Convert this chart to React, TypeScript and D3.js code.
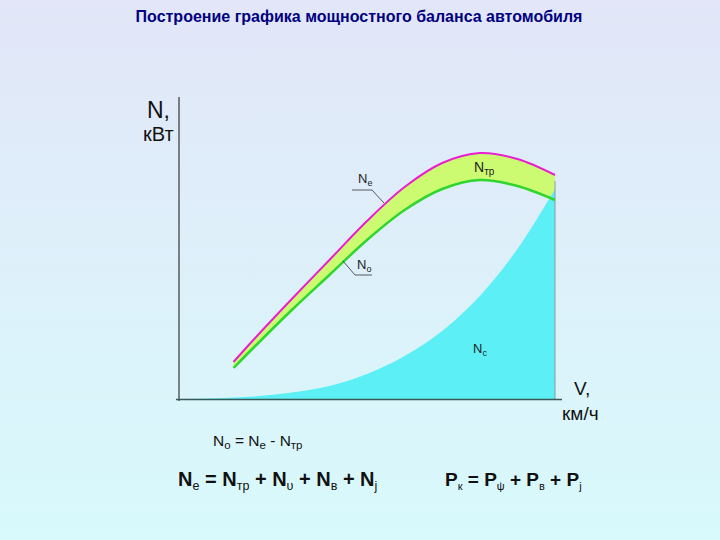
import React from "react";
import * as d3 from "d3";

// Engine power Ne and wheel power No (kW) vs speed v (km/h)
const speedsEngine = [29, 40, 60, 80, 100, 120, 140, 160, 180, 200];
const powerNe = [18.5, 30, 50, 69.5, 89, 106, 118, 123, 120, 112];
const powerNo = [15.5, 26, 44.5, 62, 79.5, 94.5, 105, 109.5, 106.5, 99.5];
// Resistance power vs speed
const speedsRes = [0, 20, 40, 60, 80, 100, 120, 140, 160, 180, 200];
const powerRes = [0, 0.4, 1.3, 3.2, 6.5, 12.5, 21.5, 34, 51.5, 75, 105];

const W = 720;
const H = 540;

export default function App() {
  const x = d3.scaleLinear().domain([0, 200]).range([179, 555]);
  const y = d3.scaleLinear().domain([0, 150]).range([399, 99]);

  const ne = speedsEngine.map((v, i) => ({ v, a: powerNe[i], b: powerNo[i] }));
  const res = speedsRes.map((v, i) => ({ v, n: powerRes[i] }));

  const curve = d3.curveCatmullRom.alpha(0.5);
  const band = d3
    .area<{ v: number; a: number; b: number }>()
    .x((d) => x(d.v))
    .y0((d) => y(d.b))
    .y1((d) => y(d.a))
    .curve(curve);
  const lineA = d3
    .line<{ v: number; a: number; b: number }>()
    .x((d) => x(d.v))
    .y((d) => y(d.a))
    .curve(curve);
  const lineB = d3
    .line<{ v: number; a: number; b: number }>()
    .x((d) => x(d.v))
    .y((d) => y(d.b))
    .curve(curve);
  const resArea = d3
    .area<{ v: number; n: number }>()
    .x((d) => x(d.v))
    .y0(y(0))
    .y1((d) => y(d.n))
    .curve(d3.curveMonotoneX);

  const f = "Arial, 'Liberation Sans', sans-serif";

  return (
    <svg
      width={W}
      height={H}
      style={{ position: "absolute", left: 0, top: 0 }}
      fontFamily={f}
    >
      <defs>
        <linearGradient id="bg" x1="0" y1="0" x2="0" y2="1">
          <stop offset="0" stopColor="#e2e6f8" />
          <stop offset="1" stopColor="#d8fafc" />
        </linearGradient>
      </defs>
      <rect x={0} y={0} width={W} height={H} fill="url(#bg)" />

      <text x={359} y={22} textAnchor="middle" fontSize={16} fontWeight="bold" fill="#000080">
        Построение графика мощностного баланса автомобиля
      </text>

      {/* band between Ne and No */}
      <path d={band(ne) || ""} fill="#ccfb72" />
      {/* resistance area */}
      <path d={resArea(res) || ""} fill="#5cf0f6" />
      <line x1={x(200)} y1={y(powerRes[powerRes.length - 1]) - 8} x2={x(200)} y2={y(0)} stroke="#8a9aa0" strokeWidth={1} />

      <path d={lineB(ne) || ""} fill="none" stroke="#2ed62e" strokeWidth={2.5} />
      <path d={lineA(ne) || ""} fill="none" stroke="#e81ed0" strokeWidth={2} />

      {/* axes */}
      <line x1={179} y1={97} x2={179} y2={401} stroke="#444" strokeWidth={1.3} />
      <line x1={176} y1={399.5} x2={562} y2={399.5} stroke="#3a5a5a" strokeWidth={1.5} />

      {/* axis titles */}
      <text x={147} y={118} fontSize={23} fill="#111">N,</text>
      <text x={143} y={141} fontSize={20} fill="#111">кВт</text>
      <text x={574} y={395} fontSize={19} fill="#111">V,</text>
      <text x={562} y={420} fontSize={19} fill="#111">км/ч</text>

      {/* curve labels */}
      <text x={358} y={183} fontSize={13} fill="#222">
        N<tspan fontSize={9} dy={3}>е</tspan>
      </text>
      <polyline points="352,190 372,190 384,203" fill="none" stroke="#333" strokeWidth={0.8} />

      <text x={474} y={172} fontSize={14} fill="#222">
        N<tspan fontSize={10} dy={3}>тр</tspan>
      </text>

      <text x={357} y={269} fontSize={13} fill="#222">
        N<tspan fontSize={9} dy={3}>о</tspan>
      </text>
      <polyline points="343,261 355,275 372,275" fill="none" stroke="#333" strokeWidth={0.8} />

      <text x={473} y={353} fontSize={13} fill="#222">
        N<tspan fontSize={9} dy={3}>с</tspan>
      </text>

      {/* formulas */}
      <text x={213} y={446} fontSize={15.5} fill="#111">
        N<tspan fontSize={11.5} dy={3}>о</tspan>
        <tspan dy={-3}> = N</tspan>
        <tspan fontSize={11.5} dy={3}>е</tspan>
        <tspan dy={-3}> - N</tspan>
        <tspan fontSize={11.5} dy={3}>тр</tspan>
      </text>

      <text x={178} y={486} fontSize={20} fontWeight="bold" fill="#111">
        N<tspan fontSize={12.5} fontWeight="normal" dy={4}>е</tspan>
        <tspan dy={-4}> = N</tspan>
        <tspan fontSize={12.5} fontWeight="normal" dy={4}>тр</tspan>
        <tspan dy={-4}> + N</tspan>
        <tspan fontSize={12.5} fontWeight="normal" dy={4}>υ</tspan>
        <tspan dy={-4}> + N</tspan>
        <tspan fontSize={12.5} fontWeight="normal" dy={4}>в</tspan>
        <tspan dy={-4}>  + N</tspan>
        <tspan fontSize={12.5} fontWeight="normal" dy={4}>j</tspan>
      </text>

      <text x={445} y={486} fontSize={19} fontWeight="bold" fill="#111">
        P<tspan fontSize={11} fontWeight="normal" dy={4}>к</tspan>
        <tspan dy={-4}> = P</tspan>
        <tspan fontSize={11} fontWeight="normal" dy={4}>ψ</tspan>
        <tspan dy={-4}>  + P</tspan>
        <tspan fontSize={11} fontWeight="normal" dy={4}>в</tspan>
        <tspan dy={-4}> + P</tspan>
        <tspan fontSize={11} fontWeight="normal" dy={4}>j</tspan>
      </text>
    </svg>
  );
}
